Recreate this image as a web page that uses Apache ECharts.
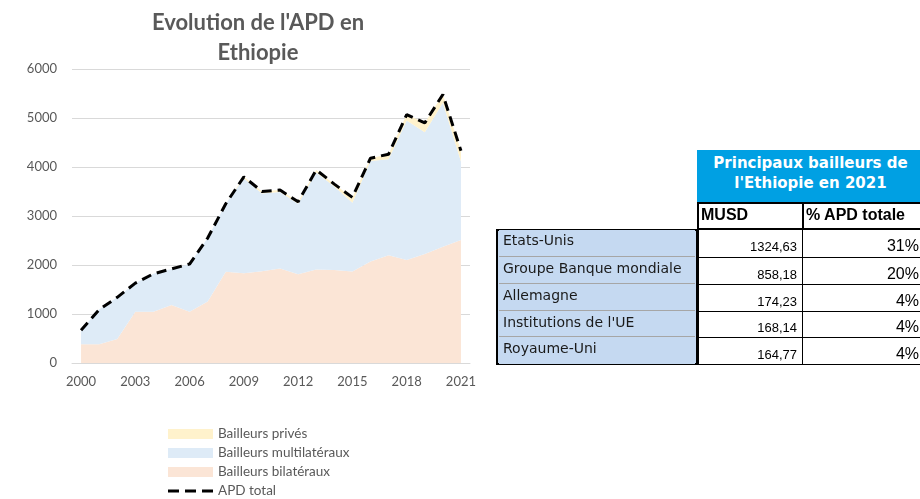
<!DOCTYPE html>
<html>
<head>
<meta charset="utf-8">
<script src="https://cdn.jsdelivr.net/npm/echarts@6/dist/echarts.min.js"></script>
<style>
  body { margin: 0; background: #fff; }
  #wrap { position: relative; width: 920px; height: 499px; overflow: hidden; }
  #chart { position: absolute; left: 0; top: 0; width: 920px; height: 499px; }
  .cell { position: absolute; box-sizing: border-box; }
  .lab { font-family: "DejaVu Sans", sans-serif; font-size: 14px; color: #1a1a1a; background: #c5d9f1; padding: 2px 0 0 4px; border-bottom: 1px solid #a6a6a6; }
  .val { font-family: "Liberation Sans", Arial, sans-serif; font-size: 13px; color: #000; background: #fff; text-align: right; border: 1.5px solid #000; }
  .pct { font-family: "Liberation Sans", Arial, sans-serif; font-size: 16px; color: #000; background: #fff; text-align: right; border: 1.5px solid #000; }
</style>
</head>
<body>
<div id="wrap">
  <div id="chart"></div>
  <div id="table"></div>
</div>
<script>
const years = ["2000", "2001", "2002", "2003", "2004", "2005", "2006", "2007", "2008", "2009", "2010",
  "2011", "2012", "2013", "2014", "2015", "2016", "2017", "2018", "2019", "2020", "2021"];
const bilateral = [385, 385, 490, 1045, 1045, 1185, 1045, 1255, 1860, 1830, 1870,
  1930, 1810, 1910, 1900, 1865, 2070, 2200, 2100, 2225, 2375, 2510];
const multilateral = [285, 705, 850, 585, 775, 735, 975, 1295, 1390, 1940, 1590,
  1560, 1440, 1980, 1700, 1405, 2050, 1960, 2850, 2485, 2935, 1600];
const prives = [0, 0, 0, 0, 0, 0, 0, 0, 0, 30, 40,
  40, 40, 50, 50, 110, 60, 100, 120, 190, 170, 220];
const apdTotal = [670, 1090, 1340, 1630, 1820, 1920, 2020, 2550, 3250, 3800, 3500,
  3530, 3290, 3940, 3650, 3380, 4180, 4260, 5070, 4900, 5480, 4330];

const donors = ["Etats-Unis", "Groupe Banque mondiale", "Allemagne", "Institutions de l'UE", "Royaume-Uni"];
const donorMusd = ["1324,63", "858,18", "174,23", "168,14", "164,77"];
const donorPct = ["31%", "20%", "4%", "4%", "4%"];

const textColor = "#595959";
const gridColor = "#d9d9d9";
// three dashes in a 45x10 box, for the legend of the total line
const dashIcon = "path://M0,0L0.1,0M0,10L0.1,10M0,3.5h11v3h-11zM17,3.5h11v3h-11zM34,3.5h11v3h-11z";

const chart = echarts.init(document.getElementById("chart"));

const areaSeries = (name, data, color) => ({
  name: name,
  type: "line",
  stack: "apd",
  data: data,
  color: color,
  symbol: "none",
  lineStyle: {width: 0},
  areaStyle: {color: color, opacity: 1},
});

chart.setOption({
  animation: false,
  title: {
    text: "Evolution de l'APD en\nEthiopie",
    left: 253,
    top: 3,
    textAlign: "center",
    textStyle: {fontFamily: "Lato", fontSize: 22, fontWeight: "bold", color: textColor, lineHeight: 30},
  },
  grid: {left: 72, right: 450, top: 69, bottom: 136},
  legend: {
    orient: "vertical",
    left: 163,
    top: 422,
    height: 90,
    itemWidth: 45,
    itemHeight: 10,
    itemGap: 5,
    textStyle: {fontFamily: "Lato", fontSize: 13.5, color: textColor},
    data: [
      {name: "Bailleurs privés", icon: "rect"},
      {name: "Bailleurs multilatéraux", icon: "rect"},
      {name: "Bailleurs bilatéraux", icon: "rect"},
      {name: "APD total", icon: dashIcon, itemStyle: {color: "#000"}},
    ],
  },
  xAxis: {
    type: "category",
    data: years,
    boundaryGap: true,
    axisLine: {lineStyle: {color: gridColor}},
    axisTick: {interval: 0, length: 6, lineStyle: {color: gridColor}},
    axisLabel: {interval: 2, color: textColor, fontFamily: "Lato", fontSize: 13, margin: 12},
  },
  yAxis: {
    type: "value",
    min: 0,
    max: 6000,
    interval: 1000,
    axisLabel: {color: textColor, fontFamily: "Lato", fontSize: 13, margin: 15, formatter: (v) => String(v)},
    splitLine: {lineStyle: {color: gridColor}},
  },
  series: [
    areaSeries("Bailleurs bilatéraux", bilateral, "#fbe5d6"),
    areaSeries("Bailleurs multilatéraux", multilateral, "#deebf7"),
    areaSeries("Bailleurs privés", prives, "#fff2cc"),
    {
      name: "APD total",
      type: "line",
      data: apdTotal,
      color: "#000",
      symbol: "none",
      lineStyle: {color: "#000", width: 3, type: [10, 6]},
    },
  ],
});

// table of main donors
const table = document.getElementById("table");
const addCell = (cls, x, y, w, h, html, extra) => {
  const d = document.createElement("div");
  d.className = "cell " + cls;
  d.style.left = x + "px";
  d.style.top = y + "px";
  d.style.width = w + "px";
  d.style.height = h + "px";
  d.innerHTML = html;
  if (extra) Object.assign(d.style, extra);
  table.appendChild(d);
};

addCell("", 697, 150, 223, 52, "Principaux bailleurs de<br>l'Ethiopie en 2021", {
  background: "#00a0e3", color: "#fff", fontFamily: "DejaVu Sans", fontWeight: "bold",
  fontSize: "15px", lineHeight: "20px", textAlign: "center", paddingTop: "3px", paddingLeft: "4px",
});
addCell("", 697, 202, 107, 28, "MUSD", {
  border: "2.5px solid #000", fontFamily: "Liberation Sans", fontWeight: "bold", fontSize: "16px",
  lineHeight: "22px", paddingLeft: "2px",
});
addCell("", 802, 202, 125, 28, "% APD totale", {
  border: "2.5px solid #000", fontFamily: "Liberation Sans", fontWeight: "bold", fontSize: "16px",
  lineHeight: "22px", paddingLeft: "2px",
});

const rowTops = [229, 257, 284, 311, 337];
const rowH = [28, 27, 27, 26, 27];
addCell("", 496, 229, 202, 136, "", {border: "2.5px solid #000", background: "#c5d9f1"});
donors.forEach((name, i) => {
  addCell("lab", 499, rowTops[i] + 1, 196, rowH[i] - 1, name,
    i === donors.length - 1 ? {borderBottom: "none"} : {});
  addCell("val", 697, rowTops[i], 107, rowH[i] + 1, donorMusd[i],
    {lineHeight: (rowH[i] + 6) + "px", paddingRight: "6px", borderLeft: "2.5px solid #000"});
  addCell("pct", 802, rowTops[i], 125, rowH[i] + 1, donorPct[i],
    {lineHeight: (rowH[i] + 4) + "px", paddingRight: "7px"});
});
</script>
</body>
</html>
